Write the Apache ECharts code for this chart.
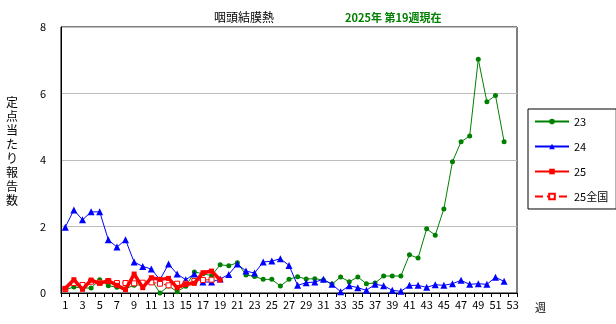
<!DOCTYPE html>
<html><head><meta charset="utf-8">
<script src="https://cdn.jsdelivr.net/npm/echarts@6/dist/echarts.min.js"></script>
<style>html,body{margin:0;padding:0;background:#fff}#c{width:616px;height:324px}</style>
</head><body><div id="c"></div>
<script>
const weeks = Array.from({length:53},(_,i)=>String(i+1));
const s23 = [0.10,0.18,0.15,0.15,0.40,0.22,0.17,0.13,0.23,0.25,0.40,0.00,0.21,0.04,0.20,0.63,0.58,0.52,0.85,0.82,0.91,0.54,0.50,0.41,0.41,0.21,0.41,0.49,0.42,0.43,0.39,0.27,0.48,0.34,0.48,0.28,0.30,0.51,0.51,0.51,1.15,1.05,1.93,1.74,2.53,3.95,4.55,4.72,7.03,5.75,5.94,4.55,null];
const s24 = [1.98,2.50,2.20,2.44,2.44,1.60,1.38,1.60,0.93,0.80,0.72,0.40,0.87,0.57,0.40,0.57,0.33,0.33,0.42,0.56,0.87,0.66,0.60,0.93,0.96,1.03,0.83,0.23,0.31,0.33,0.41,0.26,0.04,0.22,0.16,0.08,0.26,0.22,0.08,0.05,0.23,0.23,0.17,0.25,0.23,0.28,0.38,0.26,0.28,0.26,0.47,0.35,null];
const s25 = [0.14,0.40,0.11,0.39,0.29,0.37,0.23,0.10,0.57,0.16,0.46,0.41,0.44,0.16,0.26,0.29,0.61,0.66,0.39];
const s25zenkoku = [0.12,0.30,0.24,0.34,0.31,0.36,0.30,0.30,0.29,0.31,0.32,0.28,0.23,0.28,0.28,0.36,0.39,0.40];
const yTicks = [0,2,4,6,8];

const font = '"Noto Sans CJK JP", "DejaVu Sans", sans-serif';
const chart = echarts.init(document.getElementById('c'), null, {renderer:'canvas'});
chart.setOption({
  animation:false,
  backgroundColor:'#fff',
  textStyle:{fontFamily:font},
  title:[
    {text:'咽頭結膜熱', left:209, top:6, textStyle:{fontSize:12, fontWeight:'normal', color:'#000', fontFamily:font}},
    {text:'2025年 第19週現在', left:340, top:7, textStyle:{fontSize:11, fontWeight:'bold', color:'#008000', fontFamily:font}}
  ],
  graphic:[
    {type:'text', left:6, top:95, style:{text:'定\n点\n当\nた\nり\n報\n告\n数', fontSize:12, lineHeight:14, fill:'#000', fontFamily:font}}
  ],
  grid:{left:61, right:99, top:27, bottom:31, show:true, borderColor:'#000', borderWidth:1, containLabel:false},
  legend:{
    orient:'vertical', left:528, top:109, width:84,
    padding:[7,8,7,6], itemGap:14, itemWidth:34, itemHeight:7,
    borderColor:'#000', borderWidth:1, backgroundColor:'#fff', borderRadius:0,
    textStyle:{fontSize:11, color:'#000', fontFamily:font, padding:[0,0,0,0]},
    data:['23','24','25','25全国']
  },
  xAxis:{
    type:'category', data:weeks, boundaryGap:true,
    name:'週', nameLocation:'end', nameGap:18,
    nameTextStyle:{fontSize:11, color:'#000', verticalAlign:'top', padding:[9,0,0,0]},
    axisLine:{lineStyle:{color:'#000', width:1}},
    axisTick:{show:true, interval:0, length:4, lineStyle:{color:'#000'}},
    axisLabel:{interval:1, fontSize:11, color:'#000', margin:6},
    splitLine:{show:false}
  },
  yAxis:{
    type:'value', min:yTicks[0], max:yTicks[yTicks.length-1], interval:2,
    axisLine:{show:true, lineStyle:{color:'#000'}},
    axisTick:{show:false},
    axisLabel:{fontSize:11, color:'#000', margin:15},
    splitLine:{show:true, lineStyle:{color:'#bcbcbc', width:1}}
  },
  series:[
    {name:'23', type:'line', data:s23, color:'#008000', lineStyle:{width:1, color:'#008000'},
     symbol:'circle', symbolSize:5, showAllSymbol:true, itemStyle:{color:'#008000'}, z:2},
    {name:'24', type:'line', data:s24, color:'#0000ff', lineStyle:{width:1, color:'#0000ff'},
     symbol:'triangle', symbolSize:7, showAllSymbol:true, itemStyle:{color:'#0000ff'}, z:3},
    {name:'25', type:'line', data:s25, color:'#ff0000', lineStyle:{width:3.5, color:'#ff0000'},
     symbol:'rect', symbolSize:5, showAllSymbol:true, itemStyle:{color:'#ff0000'}, z:5},
    {name:'25全国', type:'line', data:s25zenkoku, color:'#ff0000', lineStyle:{width:1, type:'dashed', color:'#ff0000'},
     symbol:'rect', symbolSize:5, showAllSymbol:true, itemStyle:{color:'#fff', borderColor:'#ff0000', borderWidth:1}, z:4}
  ]
});
</script></body></html>
